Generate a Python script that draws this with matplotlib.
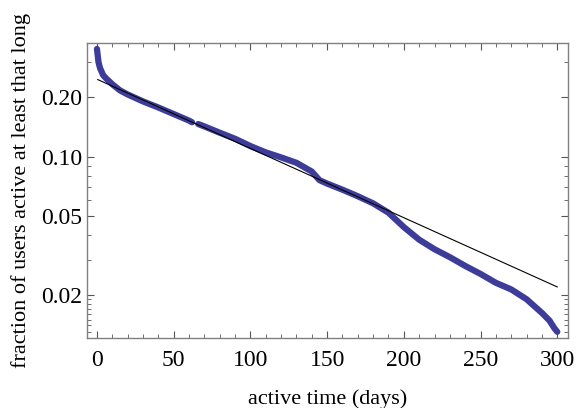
import numpy as np
import matplotlib
matplotlib.use("Agg")
import matplotlib.pyplot as plt
from matplotlib.ticker import FixedLocator, FixedFormatter, NullFormatter

# survival data: days active vs fraction of users active at least that long
days = [0, 1, 2, 4, 6, 8, 10, 15, 20, 30, 40, 50, 60, 62,
        66, 70, 80, 90, 100, 110, 120, 130, 140, 145, 150, 160, 170,
        180, 190, 200, 210, 220, 230, 240, 250, 260, 270, 280, 290,
        295, 298, 300]
fraction = [0.350, 0.300, 0.280, 0.258, 0.248, 0.240, 0.232, 0.216, 0.206,
            0.190, 0.177, 0.164, 0.152, 0.149,
            0.146, 0.142, 0.132, 0.123, 0.113, 0.105, 0.099, 0.093, 0.084,
            0.076, 0.073, 0.068, 0.063, 0.058, 0.052, 0.044, 0.038, 0.034,
            0.031, 0.028, 0.0255, 0.023, 0.0213, 0.019, 0.0162, 0.0148,
            0.0136, 0.013]

# exponential fit: y = A * 10^(-k x)
fit_amplitude = 0.246
fit_log10_rate = 0.00350
fit_range = [0.5, 300]

xticks = [0, 50, 100, 150, 200, 250, 300]
yticks = [0.02, 0.05, 0.10, 0.20]
yticklabels = ["0.02", "0.05", "0.10", "0.20"]
yminor = [0.013, 0.014, 0.015, 0.016, 0.017, 0.018, 0.019,
          0.03, 0.04, 0.06, 0.07, 0.08, 0.09, 0.3]

plt.rcParams['font.family'] = ['Liberation Serif', 'DejaVu Serif']

fig = plt.figure(figsize=(5.76, 4.08), dpi=100)
ax = fig.add_axes([87/576, 1 - 338/408, (568-87)/576, (338-43)/408])

col = (0.24, 0.24, 0.60)
ax.plot(days[:14], fraction[:14], color=col, lw=4.5, solid_capstyle='round',
        solid_joinstyle='round', zorder=2)
ax.plot(days[14:], fraction[14:], color=col, lw=4.5, solid_capstyle='round',
        solid_joinstyle='round', zorder=2)

xf = np.linspace(fit_range[0], fit_range[1], 200)
yf = fit_amplitude * 10 ** (-fit_log10_rate * xf)
ax.plot(xf, yf, color='black', lw=0.8, zorder=3)

ax.set_yscale('log')
ax.set_xlim(-6.5, 307)
ax.set_ylim(0.0121, 0.375)

ax.xaxis.set_major_locator(FixedLocator(xticks))
ax.xaxis.set_minor_locator(FixedLocator([v for v in range(0, 301, 10) if v % 50]))
ax.yaxis.set_major_locator(FixedLocator(yticks))
ax.yaxis.set_major_formatter(FixedFormatter(yticklabels))
ax.yaxis.set_minor_locator(FixedLocator(yminor))
ax.yaxis.set_minor_formatter(NullFormatter())

ax.tick_params(which='both', direction='in', top=True, right=True,
               color='#555555', labelsize=17)
ax.tick_params(axis='y', which='major', pad=3.5)
ax.tick_params(axis='x', which='major', pad=9)
ax.tick_params(which='major', length=5, width=0.8)
ax.tick_params(which='minor', length=3, width=0.6)
for s in ax.spines.values():
    s.set_color('#808080')
    s.set_linewidth(1.0)

ax.set_xlabel('active time (days)', fontsize=16, labelpad=13)
ax.set_ylabel('fraction of users active at least that long', fontsize=16, labelpad=7)

fig.savefig('out.png', dpi=100)
